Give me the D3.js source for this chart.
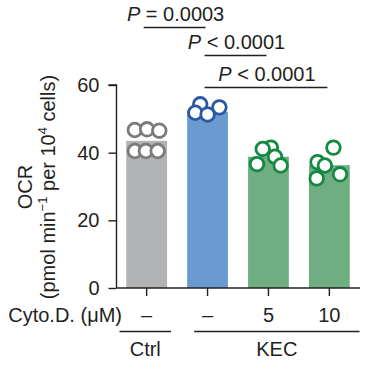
<!DOCTYPE html>
<html>
<head>
<meta charset="utf-8">
<script src="https://cdn.jsdelivr.net/npm/d3@7"></script>
<style>
  body { margin: 0; background: #fff; }
  svg text { font-family: "Liberation Sans", Arial, sans-serif; fill: #231f20; }
</style>
</head>
<body>
<div id="chart"></div>
<script>
// Data
const groups = ['ctrl', 'kec0', 'kec5', 'kec10'];
const cytoLabels = ['\u2013', '\u2013', '5', '10'];
const means = [43.5, 52.1, 38.8, 36.3];
const points = [
  [46.7, 46.9, 46.5, 40.5, 40.5, 40.5],
  [54.3, 51.8, 51.3, 53.4],
  [41.5, 41.1, 38.8, 36.6, 36.2],
  [41.5, 37.2, 36.2, 33.6, 32.4]
];
// horizontal jitter, fraction of bar width
const jitter = [
  [-0.29, 0.01, 0.31, -0.29, -0.02, 0.27],
  [-0.18, -0.30, 0.0, 0.29],
  [0.06, -0.14, 0.16, -0.28, 0.30],
  [0.10, -0.29, -0.11, 0.26, -0.31]
];
const yTicks = [0, 20, 40, 60];
const comparisons = [
  { from: 0, to: 1, label: '= 0.0003' },
  { from: 1, to: 2, label: '< 0.0001' },
  { from: 1, to: 3, label: '< 0.0001' }
];
const bracketY = [27.5, 55.5, 87.5];
const groupLabels = [
  { label: 'Ctrl', from: 0, to: 0 },
  { label: 'KEC', from: 1, to: 3 }
];

const colors = {
  bar: ['#b2b3b5', '#6a9bd0', '#6fae80', '#6fae80'],
  dot: ['#7b7b7c', '#2a58a5', '#138a42', '#138a42'],
  axis: '#231f20'
};

const fontSize = 20;
const width = 368, height = 375;
const svg = d3.select('#chart').append('svg')
  .attr('width', width)
  .attr('height', height);

const x = d3.scaleBand()
  .domain(groups)
  .range([116.5, 359.5])
  .paddingInner(0.33)
  .paddingOuter(0.16);

const y = d3.scaleLinear()
  .domain([0, 60])
  .range([288, 85]);

const cx = i => x(groups[i]) + x.bandwidth() / 2;

// Bars
svg.selectAll('.bar')
  .data(means)
  .enter()
  .append('rect')
  .attr('class', 'bar')
  .attr('x', (d, i) => x(groups[i]))
  .attr('y', d => y(d))
  .attr('width', x.bandwidth())
  .attr('height', d => y(0) - y(d))
  .attr('fill', (d, i) => colors.bar[i]);

// Points
points.forEach((vals, gi) => {
  svg.selectAll('.dot-' + gi)
    .data(vals)
    .enter()
    .append('circle')
    .attr('class', 'dot-' + gi)
    .attr('cx', (d, j) => cx(gi) + jitter[gi][j] * x.bandwidth())
    .attr('cy', d => y(d))
    .attr('r', 6.8)
    .attr('fill', '#fff')
    .attr('stroke', colors.dot[gi])
    .attr('stroke-width', 2.8);
});

// Y axis
const yAxis = svg.append('g')
  .attr('transform', 'translate(116.5,0)')
  .call(d3.axisLeft(y).tickValues(yTicks).tickSize(8).tickPadding(9));
yAxis.selectAll('line, path').attr('stroke', colors.axis).attr('stroke-width', 1.4);
yAxis.select('.domain').attr('d', `M-8,${y(60)}H0V${y(0)}`);
yAxis.selectAll('text')
  .attr('font-size', fontSize + 'px')
  .attr('font-family', '"Liberation Sans", Arial, sans-serif')
  .attr('fill', colors.axis);

// X axis
const xAxis = svg.append('g')
  .attr('transform', `translate(0,${y(0)})`)
  .call(d3.axisBottom(x).tickSize(8).tickFormat(''));
xAxis.selectAll('line, path').attr('stroke', colors.axis).attr('stroke-width', 1.4);
xAxis.select('.domain').attr('d', 'M116.5,0H360');

// Y label
const yLabel = svg.append('text')
  .attr('transform', 'translate(0,187) rotate(-90)')
  .attr('text-anchor', 'middle')
  .attr('font-size', fontSize + 'px');
yLabel.append('tspan').attr('x', 0).attr('y', 32).text('OCR');
const l2 = yLabel.append('tspan').attr('x', 0).attr('y', 55);
l2.append('tspan').text('(pmol min');
l2.append('tspan').attr('dy', -8).attr('font-size', '13px').text('\u22121');
l2.append('tspan').attr('dy', 8).text(' per 10');
l2.append('tspan').attr('dy', -8).attr('font-size', '13px').text('4');
l2.append('tspan').attr('dy', 8).text(' cells)');

// Significance brackets
comparisons.forEach((c, i) => {
  const x1 = cx(c.from) - 3, x2 = cx(c.to) - 2;
  svg.append('line')
    .attr('x1', x1).attr('x2', x2)
    .attr('y1', bracketY[i]).attr('y2', bracketY[i])
    .attr('stroke', colors.axis).attr('stroke-width', 1.4);
  const t = svg.append('text')
    .attr('x', (x1 + x2) / 2 + 1)
    .attr('y', bracketY[i] - 7)
    .attr('text-anchor', 'middle')
    .attr('font-size', fontSize + 'px');
  t.append('tspan').attr('font-style', 'italic').text('P');
  t.append('tspan').text(' ' + c.label);
});

// Cyto.D. row
svg.append('text')
  .attr('x', 122)
  .attr('y', 322)
  .attr('text-anchor', 'end')
  .attr('font-size', fontSize + 'px')
  .text('Cyto.D. (\u03bcM)');

svg.selectAll('.cyto')
  .data(cytoLabels)
  .enter()
  .append('text')
  .attr('class', 'cyto')
  .attr('x', (d, i) => cx(i))
  .attr('y', 322)
  .attr('text-anchor', 'middle')
  .attr('font-size', fontSize + 'px')
  .text(d => d);

// Group labels
groupLabels.forEach(g => {
  const x1 = g.from === 0 ? 119.5 : x(groups[g.from]) + 7;
  const x2 = g.to === 0 ? 171 : 359.5;
  svg.append('line')
    .attr('x1', x1).attr('x2', x2)
    .attr('y1', 331.5).attr('y2', 331.5)
    .attr('stroke', colors.axis).attr('stroke-width', 1.4);
  svg.append('text')
    .attr('x', (x1 + x2) / 2)
    .attr('y', 356)
    .attr('text-anchor', 'middle')
    .attr('font-size', fontSize + 'px')
    .text(g.label);
});
</script>
</body>
</html>
